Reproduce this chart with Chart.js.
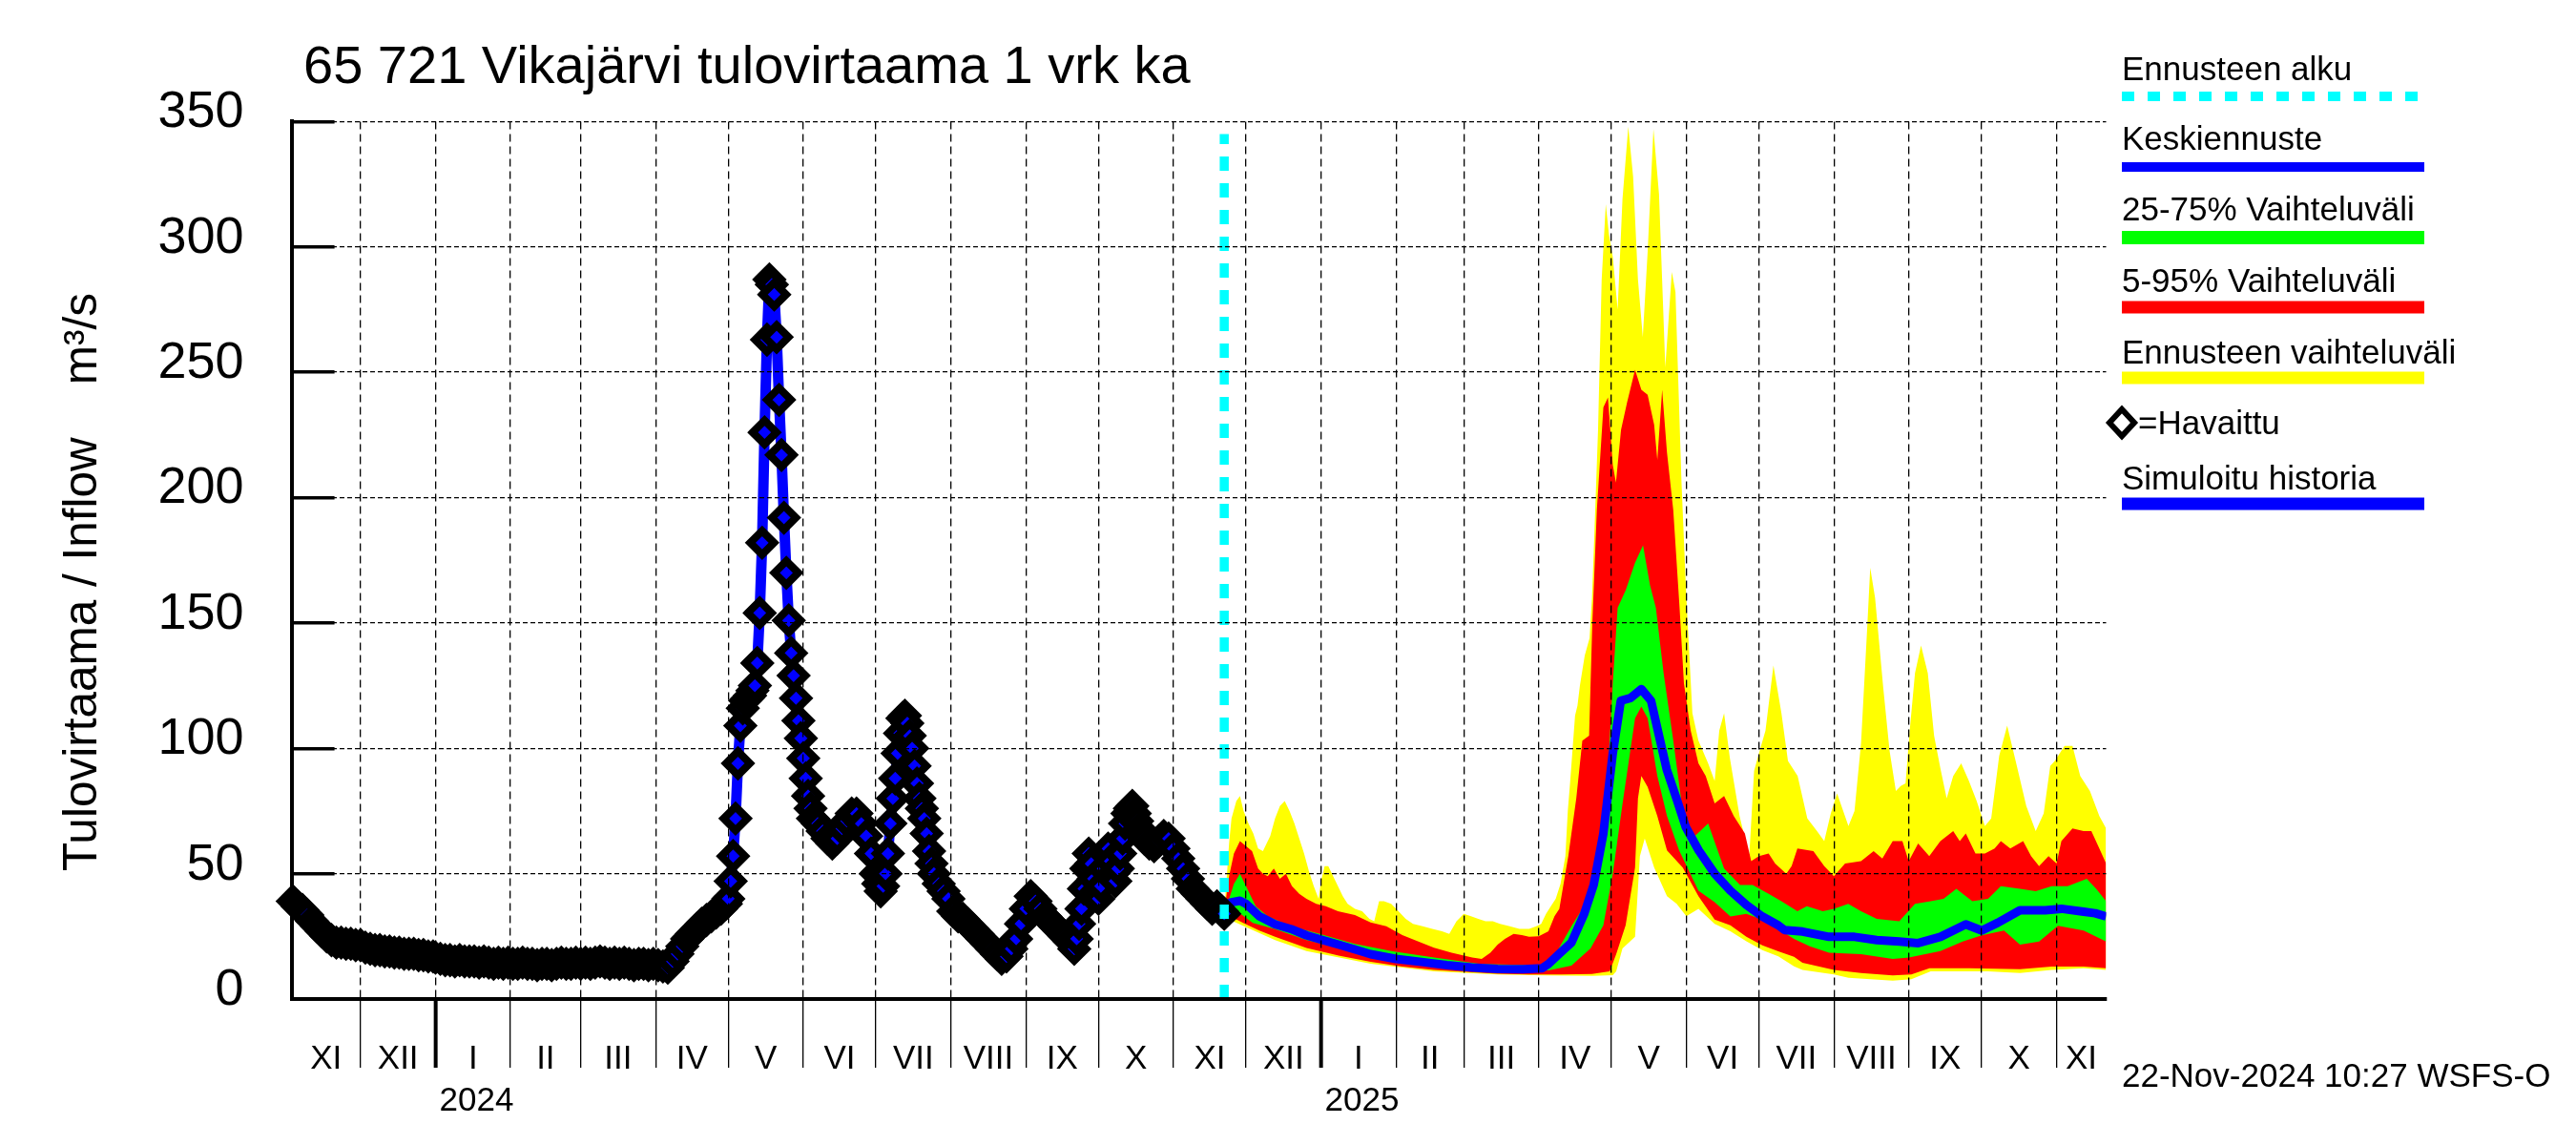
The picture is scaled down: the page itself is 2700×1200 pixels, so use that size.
<!DOCTYPE html>
<html>
<head>
<meta charset="utf-8">
<script src="https://cdn.jsdelivr.net/npm/chart.js@4.4.1/dist/chart.umd.min.js"></script>
<style>
  html, body { margin: 0; padding: 0; background: #fff; }
  #wrap { width: 2700px; height: 1200px; position: relative; }
</style>
</head>
<body>
<div id="wrap"><canvas id="chart"></canvas></div>
<script>
// x values are day numbers: days since 1 Jan 2024
const X_MIN = -59.5;
const X_MAX = 690.5;
const FORECAST_START = 326; // 22 Nov 2024

const monthStarts = [-31, 0, 31, 60, 91, 121, 152, 182, 213, 244, 274, 305, 335,
  366, 397, 425, 456, 486, 517, 547, 578, 609, 639, 670];
const monthLabels = ['XI', 'XII', 'I', 'II', 'III', 'IV', 'V', 'VI', 'VII', 'VIII', 'IX', 'X', 'XI',
  'XII', 'I', 'II', 'III', 'IV', 'V', 'VI', 'VII', 'VIII', 'IX', 'X', 'XI'];
const yearStarts = [0, 366];
const yearLabels = ['2024', '2025'];
const yTicks = [0, 50, 100, 150, 200, 250, 300, 350];

const titleText = '65 721 Vikajärvi tulovirtaama 1 vrk ka';
const yTitle = 'Tulovirtaama / Inflow    m³/s';
const stampText = '22-Nov-2024 10:27 WSFS-O';
const legendTexts = ['Ennusteen alku', 'Keskiennuste', '25-75% Vaihteluväli', '5-95% Vaihteluväli',
  'Ennusteen vaihteluväli', '=Havaittu', 'Simuloitu historia'];

// observed inflow (diamonds) / simulated history (blue line), m3/s
const observed = [[-59,39],[-57,37],[-55,35.5],[-53,33.5],[-51,31],[-49,29],[-47,27],[-45,25],[-43,23.5],
  [-41,22.5],[-39,22.5],[-37,22],[-35,22],[-33,21.5],[-31,21.5],[-29,20.5],[-27,20],[-25,19.5],[-23,19.5],
  [-21,19],[-19,19],[-17,18.5],[-15,18.5],[-13,18],[-11,18],[-9,18],[-7,17.5],[-5,17.5],[-3,17],[-1,17],
  [0,16.5],[2,16],[4,15.5],[6,15.5],[8,15],[10,15.5],[12,15],[14,15],[16,15],[18,14.5],[20,15],[22,14.5],
  [24,14],[26,14.5],[28,14],[30,14.5],[32,14],[34,14],[36,14.5],[38,14],[40,14],[42,13.5],[44,14],[46,14],
  [48,13.5],[50,14],[52,14.5],[54,14],[56,14],[58,14.5],[60,14],[62,14.5],[64,14],[66,14.5],[68,15],
  [70,14.5],[72,14],[74,14.5],[76,14],[78,14.5],[80,14],[82,13.5],[84,14],[86,14],[88,13.5],[90,14],
  [92,13.5],[94,13],[96,12.5],[98,15],[100,18],[102,21],[104,24],[106,26],[108,28],[110,30],[112,31.5],
  [114,33],[116,34.5],[118,36],[120,38],[121,40],[122,47],[123,57],[124,72],[125,94],[126,109],[127,116],
  [128,119],[129,120],[130,121],[131,123],[132,125],[133,134],[134,154],[135,182],[136,226],[137,263],
  [138,287],[139,285],[140,281],[141,264],[142,239],[143,217],[144,192],[145,170],[146,151],[147,138],
  [148,129],[149,120],[150,111],[151,104],[152,96],[153,88],[154,81],[155,76],[156,72],[158,70],[160,67],
  [162,64],[164,62],[166,64],[168,68],[170,71],[172,74],[174,74],[176,70],[178,65],[180,58],[182,50],
  [183,46],[184,43],[185,45],[186,50],[187,58],[188,70],[189,80],[190,88],[191,98],[192,106],[193,112],
  [194,113],[195,110],[196,105],[197,100],[198,93],[199,86],[200,80],[201,76],[202,72],[203,66],[204,59],
  [205,54],[206,50],[208,46],[210,43],[212,40],[214,35],[216,33],[218,32],[220,30],[222,28],[224,26],
  [226,24],[228,22],[230,20],[232,18],[234,16],[236,17],[238,20],[240,24],[242,30],[244,36],[246,41],
  [248,39],[250,36],[252,33],[254,31],[256,29],[258,27],[260,25],[262,23],[264,20],[265,24],[266,30],
  [267,36],[268,44],[269,52],[270,58],[271,54],[272,48],[273,43],[274,40],[275,45],[276,52],[277,58],
  [278,60],[279,55],[280,50],[281,47],[282,52],[283,58],[284,64],[285,70],[286,74],[287,76],[288,77],
  [289,74],[290,71],[291,68],[292,66],[293,64],[295,62],[297,61],[299,63],[301,65],[303,64],[305,60],
  [307,56],[309,52],[311,48],[313,44],[315,42],[317,40],[319,38],[321,36],[323,37],[325,35],[326,34]];

// forecast: whole ensemble range (yellow)
const fcMax = [[326,35],[327,48],[328,62],[329,72],[331,79],[332.5,81],[334,75],[336,70],[338,66],[340,60],
  [342,59],[343.5,62],[345,65],[347,72],[349,77],[351,79],[353,75],[355,70],[357,64],[359,58],[361,51],
  [363,45],[365,40],[366,47],[367.5,53],[369,53],[371,49],[373,45],[375,41],[377,38],[380,36],[383,35],
  [386,32],[388,31],[390,39],[392,39],[395,38],[398,35],[401,32],[404,30],[408,29],[412,28],[416,27],
  [419,26],[422,31],[425,34],[428,33],[431,32],[434,31],[437,31],[440,30],[444,29],[448,28],[452,28],
  [455,29],[457,30],[459,34],[461,37],[463,40],[465,46],[467,57],[468,75],[469,87],[470,100],[471,113],
  [472,117],[473,125],[475,137],[477,144],[478,160],[479,186],[480.5,227],[482,287],[483.7,317],[485,305],
  [486.6,296],[488.6,275],[490.6,319],[493,348],[495,328],[497,287],[499,264],[501,298],[503.4,347],
  [505.7,321],[508.3,252],[511,290],[512.5,282],[515,206],[517,160],[519.5,114],[522,103],[526,94],
  [528.7,87],[530.6,107],[532.6,114],[535,96],[539,73],[543,57],[545,91],[547,98],[549.7,107],[553,133],
  [556.3,114],[559,95],[563,89],[567,72],[571,67],[574,63],[576.7,74],[579.3,82],[584,69],[586.5,75],
  [589.2,102],[591.8,149],[593,172],[595,160],[598.4,124],[601,99],[603.6,83],[605.6,85],[607.6,86],
  [609.5,109],[611.5,130],[614,141],[616.8,130],[619.4,105],[622,92],[624.6,80],[627.3,89],[630.6,94],
  [633.8,87],[637,79],[640.4,69],[643,72],[646.3,97],[649.6,109],[653.6,93],[657.5,77],[661.4,67],
  [664.7,74],[667.4,93],[669.3,95],[673.3,101],[676.6,101],[679.8,89],[683.8,83],[687.7,73],[690.5,68]];
const fcMin = [[326,32],[328.5,31.5],[347,23.5],[360,19.1],[386.5,14.1],[412.7,11],[439,9.8],[459,9.4],
  [478.4,9.2],[486.6,9.5],[488,11],[490.6,20.2],[495.8,24.8],[497.8,57],[499.8,64],[503.7,52.4],[509,41],
  [513,38],[517,33],[522,36],[528.7,30],[535.2,27],[541.8,23],[548.4,19.5],[555,17],[561.5,13],[565,11.6],
  [578,9.8],[584,8.5],[602.3,7.3],[610,7.9],[618,11],[641.7,11],[654.9,10.4],[668,11.6],[681.2,12.3],
  [690.5,11.6]];

// forecast 5-95 % (red)
const fcP95 = [[326,34],[327,42],[328,49],[330,58],[332.5,63],[335,61],[337.5,59],[340,52],[342,50],[344,49],
  [346.5,52],[349,48],[351.5,50],[354,45],[357,42],[360,40],[364,38],[368,37],[373,35],[380,33.5],
  [386.5,30.5],[393,29],[399.6,25.5],[406,23],[412.7,20.5],[420,18.5],[428.5,16.6],[432.4,16],[436,18.5],
  [439,21.7],[442,24],[445.6,26],[449,25.5],[452,24.8],[456,25],[460,27],[462.5,33],[464.5,36],[466.6,48],
  [468.2,57],[471.5,80],[474,103],[476.8,105],[478.1,149],[480,195],[482.7,236],[484.6,240],[486.6,213],
  [487.9,206],[490,227],[492.5,238],[495.8,251],[498.4,243],[501,241],[503.7,229],[505,215],[507,243],
  [509,218],[511.6,195],[514.2,156],[516,126],[518.8,107],[522,94],[525,89],[528.7,78],[532.6,81],
  [536.6,73],[541.2,66],[543.8,55],[547,57],[551,58],[553.7,54],[558.3,50],[560.5,53],[562.9,60],
  [569.5,59],[574,53],[578,49],[582.6,54],[589.2,55],[594.4,59],[598,56],[602.3,63],[606.3,63],[608.9,55],
  [612.8,62],[617.4,57],[622,63],[627.3,67],[630,63],[632.5,66],[636.5,58],[640.4,58],[644.4,60],[647,63],
  [650.9,60],[656.2,63],[659.5,57],[662.8,53],[666.7,57],[670,54],[672,63],[676.6,68],[681.2,67],
  [684.4,67],[687.7,60],[690.5,54]];
const fcP5 = [[326,33],[328.5,33],[333.8,30.4],[340.5,27.3],[347,24.8],[360,20.4],[373.3,17.3],[386.5,14.8],
  [399.6,12.9],[412.7,11.6],[425.9,10.8],[439,10.1],[452,9.8],[465.3,9.8],[478,10],[485.3,11],[488,17.9],
  [491.9,29.4],[495.8,52.4],[497,80],[498.4,89],[501,84.6],[505,73],[509,59.3],[515.5,52.4],[522,41],
  [528.7,31.7],[535.2,29.4],[541.8,24.8],[548.4,21.4],[555,19],[561.5,16.8],[565,14.5],[578,11.6],
  [589.2,10.4],[602.3,9.4],[610,9.8],[617.5,12.3],[634,12.3],[654.9,11.9],[668,12.9],[681.2,12.9],
  [690.5,12.3]];

// forecast 25-75 % (green)
const fcP75 = [[326,34],[328,40],[330,46],[332.5,50],[335,45],[339,37],[344,33],[353.6,29],[365.4,26],
  [380,22],[395.6,19],[412.7,16.6],[432,14],[452,13.5],[456,13],[460,15],[463,18],[469.5,29],[476,39],
  [481.4,50],[484,80],[486.6,126],[488.6,156],[491.9,163],[495.8,174],[499.1,181],[502,165],[504.4,156],
  [507.6,130],[511.6,103],[515.5,75],[519.5,64],[526,70],[532.6,52],[539.2,45.5],[544.4,45.5],[551,42],
  [556.3,39],[562.9,35],[566.8,37],[573.4,35],[578,36],[583.9,38],[589.2,35],[595.7,32],[605,31],
  [611.5,38],[618,39],[623.3,40],[628.6,44],[635.2,39],[641.7,40],[647,45],[654.9,44],[661.4,43],[668,45],
  [674.6,45],[682.5,48],[686.4,44],[690.5,39]];
const fcP25 = [[326,34],[328.5,35.4],[332.5,34.2],[337.8,30.4],[347,27.9],[360,23.5],[373.3,20.4],
  [386.5,17.3],[399.6,15.1],[412.7,13.5],[425.9,12.3],[439,11.4],[452,11],[460,11.4],[463,12],[469.5,13.3],
  [477.4,20.2],[482.7,29.4],[486.6,50],[490.6,77.7],[495.8,112],[498.4,116.7],[501,112],[505,89],[509,73],
  [514,59.3],[522,43.2],[528.7,38.6],[535.2,32.9],[541.8,34],[548.4,31.7],[555,28],[561.5,24],[568,21],
  [576,18.5],[589.2,17.9],[602.3,16],[609,16.6],[622,19.1],[631.2,22.9],[639.1,25.4],[648.3,27.3],
  [654.9,21.7],[662.8,22.9],[670.6,29.2],[681.2,27.3],[690.5,22.9]];

// forecast median (blue)
const fcMed = [[326,35],[328.5,38.5],[332.5,39.2],[335,38],[340.5,33],[347,29.8],[353.6,27.9],[360,25.4],
  [366.7,23.5],[373.3,21.7],[380,19.8],[386.5,17.9],[397,16],[407.5,14.8],[418,13.5],[428.5,12.6],[439,12],
  [449.5,11.9],[457.4,12.3],[460,14],[464.3,17.9],[469.5,22.5],[474.8,34],[478.7,45.5],[482.7,66],
  [486.6,98],[489.9,119],[493.8,120],[498.4,123.6],[502.4,119],[505.7,105],[508.9,91.5],[512.9,80],
  [516.8,68.5],[522.1,59.3],[528.7,50],[535.2,43.2],[541.8,37.5],[548.4,32.9],[555,29.4],[557.6,27.5],
  [565,26.9],[576,24.8],[586.5,24.8],[595.7,23.5],[605,22.9],[612.8,22.3],[622,24.8],[632.5,29.8],
  [639.1,27.3],[645.7,30.4],[654.9,35.4],[665.4,35.4],[672,36],[681.2,34.8],[686,34.2],[690.5,32.9]];

const FONT = '"Liberation Sans", Arial, Helvetica, sans-serif';
const toXY = arr => arr.map(([x, y]) => ({ x, y }));

function band(data, color, fillTo, order) {
  return {
    data: toXY(data), borderWidth: 0, borderColor: 'rgba(0,0,0,0)',
    backgroundColor: color, fill: fillTo, pointRadius: 0, order: order
  };
}

// text, legend and axis labels drawn around the plot
const decor = {
  id: 'decor',
  afterDraw(chart) {
    const { ctx, scales: { x } } = chart;
    ctx.save();
    ctx.fillStyle = '#000';
    ctx.textBaseline = 'alphabetic';

    ctx.font = '56px ' + FONT;
    ctx.textAlign = 'left';
    ctx.fillText(titleText, 318, 87);

    ctx.save();
    ctx.translate(101, 610);
    ctx.rotate(-Math.PI / 2);
    ctx.font = '49.5px ' + FONT;
    ctx.textAlign = 'center';
    ctx.fillText(yTitle, 0, 0);
    ctx.restore();

    // month names centred in the visible part of each month
    ctx.font = '35px ' + FONT;
    ctx.textAlign = 'center';
    const bounds = [X_MIN, ...monthStarts, X_MAX];
    monthLabels.forEach((lab, i) => {
      const px = (x.getPixelForValue(bounds[i]) + x.getPixelForValue(bounds[i + 1])) / 2;
      ctx.fillText(lab, px, 1120);
    });
    ctx.textAlign = 'left';
    yearStarts.forEach((d, i) => ctx.fillText(yearLabels[i], x.getPixelForValue(d) + 4, 1164));

    // legend
    const LX = 2224, LW = 317;
    const rows = [
      { base: 84, line: 101, w: 10, color: '#00FFFF', dash: [13, 14] },
      { base: 157, line: 175, w: 10, color: '#0000FF' },
      { base: 231, line: 249, w: 14, color: '#00FF00' },
      { base: 306, line: 322, w: 13, color: '#FF0000' },
      { base: 381, line: 396, w: 13, color: '#FFFF00' },
      { base: 455, diamond: true },
      { base: 513, line: 528, w: 13, color: '#0000FF' }
    ];
    rows.forEach((r, i) => {
      ctx.fillStyle = '#000';
      if (r.diamond) {
        ctx.save();
        ctx.beginPath();
        ctx.moveTo(LX - 13, 443); ctx.lineTo(LX, 429); ctx.lineTo(LX + 13, 443); ctx.lineTo(LX, 457);
        ctx.closePath();
        ctx.fillStyle = '#fff'; ctx.fill();
        ctx.lineWidth = 6; ctx.strokeStyle = '#000'; ctx.stroke();
        ctx.restore();
        ctx.fillText(legendTexts[i], LX + 17, r.base);
        return;
      }
      ctx.fillText(legendTexts[i], LX, r.base);
      ctx.save();
      ctx.strokeStyle = r.color;
      ctx.lineWidth = r.w;
      ctx.setLineDash(r.dash || []);
      ctx.beginPath();
      ctx.moveTo(LX, r.line); ctx.lineTo(LX + LW, r.line);
      ctx.stroke();
      ctx.restore();
    });

    ctx.fillStyle = '#000';
    ctx.fillText(stampText, 2224, 1139);
    ctx.restore();
  }
};

new Chart(document.getElementById('chart'), {
  type: 'line',
  data: {
    datasets: [
      {
        label: 'Havaittu', data: toXY(observed), borderColor: '#0000FF', borderWidth: 11,
        borderJoinStyle: 'round', pointStyle: 'rectRot', pointRadius: 12.5, pointBorderWidth: 8,
        pointBorderColor: '#000', pointBackgroundColor: '#0000FF', fill: false, clip: false, order: 1
      },
      {
        label: 'Ennusteen alku', data: [{ x: FORECAST_START, y: 0 }, { x: FORECAST_START, y: 345 }],
        borderColor: '#00FFFF', borderWidth: 9.5, borderDash: [15, 13], pointRadius: 0, fill: false, order: 0
      },
      {
        label: 'Keskiennuste', data: toXY(fcMed), borderColor: '#0000FF', borderWidth: 9,
        borderJoinStyle: 'round', pointRadius: 0, fill: false, order: 2
      },
      band(fcP75, '#00FF00', 4, 3),
      band(fcP25, '#00FF00', false, 3),
      band(fcP95, '#FF0000', 6, 4),
      band(fcP5, '#FF0000', false, 4),
      band(fcMax, '#FFFF00', 8, 5),
      band(fcMin, '#FFFF00', false, 5)
    ]
  },
  options: {
    responsive: true,
    maintainAspectRatio: false,
    animation: false,
    devicePixelRatio: 1,
    layout: { padding: { top: 115, right: 492.5, left: 0, bottom: 0 } },
    plugins: { legend: { display: false }, title: { display: false }, tooltip: { enabled: false } },
    elements: { line: { tension: 0 } },
    scales: {
      x: {
        type: 'linear', min: X_MIN, max: X_MAX,
        afterBuildTicks: s => { s.ticks = monthStarts.map(v => ({ value: v })); },
        afterFit: s => { s.height = 153; },
        ticks: { display: false },
        grid: {
          color: '#000', lineWidth: 1.3, z: 1, drawTicks: true, tickLength: 72, tickColor: '#000',
          tickWidth: c => (c.tick && yearStarts.includes(c.tick.value)) ? 4 : 1.3, tickBorderDash: []
        },
        border: { display: true, color: '#000', width: 4, dash: [8, 5], z: 1 }
      },
      y: {
        min: 0, max: 350,
        afterBuildTicks: s => { s.ticks = yTicks.map(v => ({ value: v })); },
        afterFit: s => { s.width = 305.6; },
        ticks: { font: { family: FONT, size: 54 }, color: '#000', padding: 95, labelOffset: -9 },
        grid: { color: '#000', lineWidth: 1.3, z: 1, drawTicks: true, tickLength: -45, tickWidth: 3.5, tickColor: '#000' },
        border: { display: true, color: '#000', width: 4, dash: [5, 3], z: 1 }
      }
    }
  },
  plugins: [decor]
});
</script>
</body>
</html>
